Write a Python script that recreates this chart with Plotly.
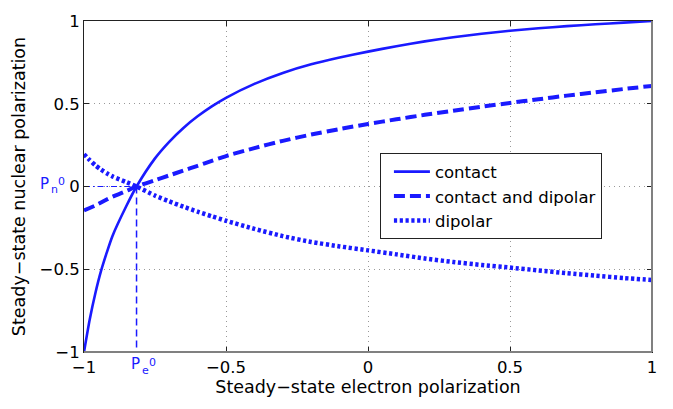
import plotly.graph_objects as go

# Steady-state electron polarization (shared abscissa for the three models)
pe = [-1.0, -0.98, -0.96, -0.94, -0.92, -0.9, -0.85, -0.815, -0.75, -0.7,
      -0.65, -0.6, -0.55, -0.5, -0.4, -0.3, -0.2, -0.1, 0.0, 0.1, 0.2, 0.3,
      0.4, 0.5, 0.6, 0.7, 0.8, 0.9, 1.0]

# Steady-state nuclear polarization for each hyperfine model
pn_contact = [-1.0, -0.805, -0.645, -0.51, -0.40, -0.30, -0.115, 0.0, 0.17, 0.27,
              0.354, 0.424, 0.484, 0.536, 0.62, 0.686, 0.738, 0.779, 0.815, 0.848,
              0.877, 0.902, 0.923, 0.941, 0.956, 0.969, 0.98, 0.99, 1.0]
pn_both = [-0.145, -0.13, -0.115, -0.097, -0.079, -0.062, -0.026, 0.0, 0.038, 0.067,
           0.096, 0.125, 0.155, 0.184, 0.232, 0.276, 0.314, 0.347, 0.378, 0.406,
           0.433, 0.458, 0.482, 0.505, 0.527, 0.549, 0.569, 0.589, 0.608]
pn_dipolar = [0.195, 0.16, 0.128, 0.102, 0.08, 0.061, 0.026, 0.0, -0.055, -0.09,
              -0.122, -0.152, -0.18, -0.207, -0.256, -0.30, -0.335, -0.362, -0.386,
              -0.41, -0.435, -0.456, -0.474, -0.49, -0.507, -0.524, -0.539, -0.553,
              -0.565]

# Common crossing point of the three curves
pe0 = -0.815
pn0 = 0.0

tick_vals = [-1, -0.5, 0, 0.5, 1]
tick_text = ["\u22121", "\u22120.5", "0", "0.5", "1"]

BLUE = "#1a1aff"
FONT = "DejaVu Sans"

fig = go.Figure()

# P_n^0 and P_e^0 guide lines
fig.add_trace(go.Scatter(x=[-1, pe0], y=[pn0, pn0], mode="lines",
                         line=dict(color=BLUE, width=1.2, dash="6px,3px,1.5px,3px"),
                         showlegend=False, hoverinfo="skip"))
fig.add_trace(go.Scatter(x=[pe0, pe0], y=[pn0, -1], mode="lines",
                         line=dict(color=BLUE, width=1.5, dash="7px,4px"),
                         showlegend=False, hoverinfo="skip"))

fig.add_trace(go.Scatter(x=pe, y=pn_contact, mode="lines", name="contact",
                         line=dict(color=BLUE, width=2.6, shape="spline", smoothing=0.6)))
fig.add_trace(go.Scatter(x=pe, y=pn_both, mode="lines", name="contact and dipolar",
                         line=dict(color=BLUE, width=4, dash="11px,5px",
                                   shape="spline", smoothing=0.6)))
fig.add_trace(go.Scatter(x=pe, y=pn_dipolar, mode="lines", name="dipolar",
                         line=dict(color=BLUE, width=4.5, dash="3.2px,2.6px",
                                   shape="spline", smoothing=0.6)))

axis_common = dict(
    range=[-1, 1], tickvals=tick_vals, ticktext=tick_text,
    showline=True, linecolor="#222", linewidth=1, mirror="ticks",
    ticks="inside", ticklen=5, tickcolor="#222",
    showgrid=True, gridcolor="#999", gridwidth=1, griddash="1px,4px",
    zeroline=False, tickfont=dict(family=FONT, size=16.5, color="black"),
)
fig.update_xaxes(**axis_common,
                 title=dict(text="Steady\u2212state electron polarization",
                            font=dict(family=FONT, size=17.5, color="black"),
                            standoff=3))
fig.update_yaxes(**axis_common,
                 title=dict(text="Steady\u2212state nuclear polarization",
                            font=dict(family=FONT, size=17.5, color="black"),
                            standoff=9))

# heavier grey frame on the right and bottom edges
fig.add_shape(type="line", xref="paper", yref="paper", x0=1, x1=1, y0=0, y1=1,
              line=dict(color="#808080", width=2), layer="above")
fig.add_shape(type="line", xref="paper", yref="paper", x0=0, x1=1, y0=0, y1=0,
              line=dict(color="#808080", width=2), layer="above")


def p_label(xref, x, yref, y, sub, xs, ys):
    """Blue 'P' followed by a lowered subscript and a raised '0'."""
    parts = [("P", 15, "right", xs, ys),
             (sub, 11, "left", xs, ys - 6),
             ("0", 11, "left", xs + 7, ys + 2)]
    for text, size, anchor, dx, dy in parts:
        fig.add_annotation(xref=xref, x=x, yref=yref, y=y, text=text,
                           showarrow=False, xanchor=anchor, yanchor="middle",
                           xshift=dx, yshift=dy, borderpad=0,
                           font=dict(family=FONT, size=size, color=BLUE))


# P_n^0 beside the zero of the ordinate, P_e^0 under the crossing abscissa
p_label("paper", 0, "y", pn0, "n", -34, 3)
p_label("x", pe0, "paper", 0, "e", 4, -12)

fig.update_layout(
    width=673, height=409,
    margin=dict(l=84, r=21, t=12, b=57),
    paper_bgcolor="white", plot_bgcolor="white",
    font=dict(family=FONT, color="black"),
    legend=dict(x=0.521, y=0.60, xanchor="left", yanchor="top",
                bgcolor="white", bordercolor="#222", borderwidth=1,
                font=dict(family=FONT, size=16.5, color="black"),
                indentation=8, itemwidth=36, tracegroupgap=0),
    showlegend=True,
)

fig.write_html("out.html")
